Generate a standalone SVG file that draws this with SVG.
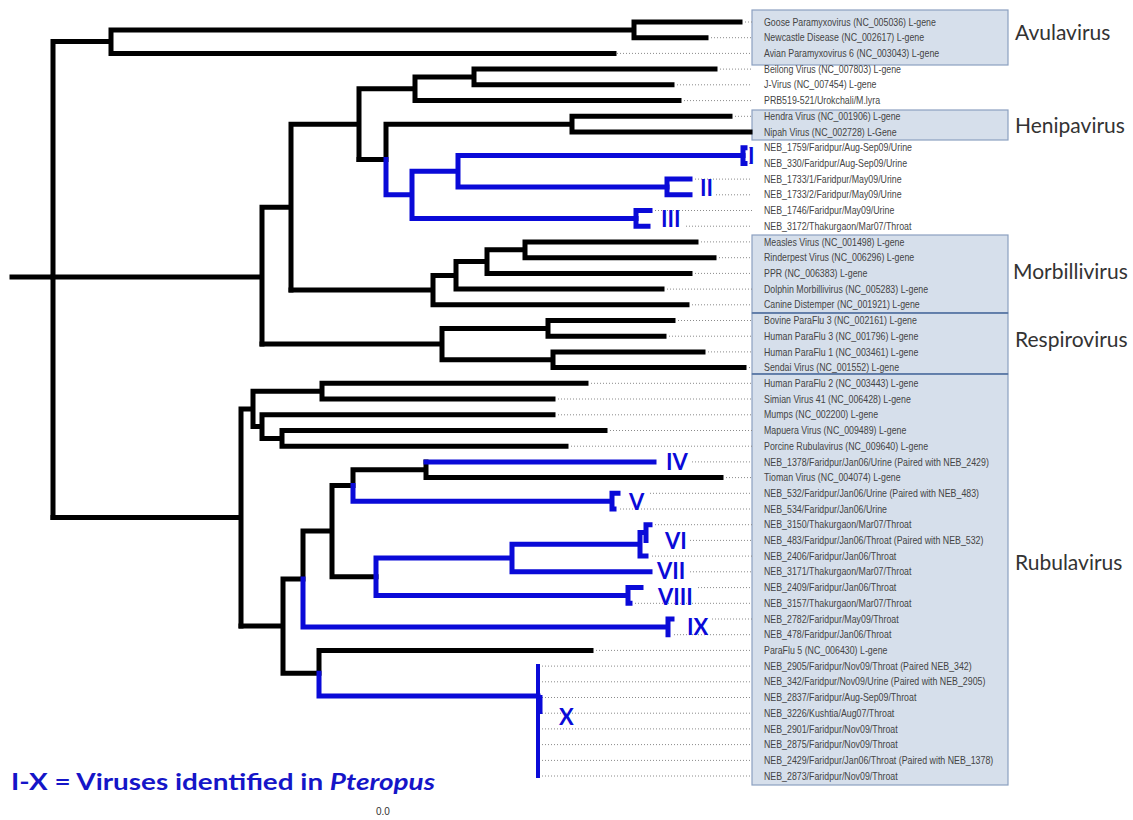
<svg xmlns="http://www.w3.org/2000/svg" width="1133" height="820" viewBox="0 0 1133 820">
  <style>
    .b { fill: none; stroke: #000; stroke-width: 5; stroke-linecap: square; }
    .u { fill: none; stroke: #0a0ad8; stroke-width: 5; stroke-linecap: square; }
    .dot { fill: none; stroke: #8a8a8a; stroke-width: 1; stroke-dasharray: 1 2; }
    .box { fill: #d6dfeb; stroke: #8ba0c0; stroke-width: 1.2; }
    .sep { stroke: #4f6f9f; stroke-width: 1.5; }
    .leaf { font-family: "Liberation Sans", Arial, sans-serif; font-size: 10.5px; fill: #444; }
    .grp { font-family: Lato, "Open Sans", sans-serif; font-size: 21px; fill: #333; }
    .cl { font-family: Lato, "Open Sans", sans-serif; font-weight: bold; font-size: 22px; fill: #0a0ad8; }
    .legend { font-family: Lato, "Open Sans", sans-serif; font-weight: bold; font-size: 23px; fill: #1515c8; }
    .scale { font-family: "Liberation Sans", Arial, sans-serif; font-size: 10px; fill: #333; }
  </style>
  <rect width="1133" height="820" fill="#fff"/>

  <!-- genus boxes -->
  <g id="genus-boxes">
    <g id="avulavirus"><rect class="box" x="752" y="10" width="256" height="55"/><text class="grp" x="1015" y="40">Avulavirus</text></g>
    <g id="henipavirus"><rect class="box" x="752" y="110" width="256" height="30"/><text class="grp" x="1015" y="133">Henipavirus</text></g>
    <g id="morbillivirus"><rect class="box" x="752" y="235" width="256" height="78"/><text class="grp" x="1013" y="279">Morbillivirus</text></g>
    <g id="respirovirus"><rect class="box" x="752" y="313" width="256" height="61"/><text class="grp" x="1015" y="347">Respirovirus</text></g>
    <g id="rubulavirus"><rect class="box" x="752" y="374" width="256" height="411"/><text class="grp" x="1015" y="570">Rubulavirus</text></g>
    <line class="sep" x1="752" y1="313" x2="1008" y2="313"/>
    <line class="sep" x1="752" y1="374" x2="1008" y2="374"/>
  </g>

  <!-- dotted leaf guides -->
  <g id="leaf-guides">
    <path class="dot" d="M745,22H752M711,37.7H752M617,53.4H752M720,69.1H752M677,84.8H752M684,100.6H752M735,116.3H752
      M749,147.7H752M749,163.4H752M695,179.1H752M716,194.8H752M655,210.5H752M686,226.2H752
      M701,241.9H752M719,257.7H752M695,273.4H752M667,289.1H752M692,304.8H752M678,320.5H752M669,336.2H752M708,351.9H752M749,367.6H752
      M591,383.3H752M558,399H752M558,414.8H752M610,430.5H752M571,446.2H752M692,461.9H752M726,477.6H752
      M650,493.3H752M620,509H752M655,524.7H752M690,540.4H752M652,556.1H752M690,571.8H752M698,587.6H752M635,603.3H752M712,619H752M674,634.7H752
      M596,650.4H752M542,666.1H752M542,681.8H752M542,697.5H752M542,713.2H752M542,728.9H752M542,744.6H752M542,760.4H752M542,776H752"/>
  </g>

  <!-- tree connectors -->
  <g id="connectors">
    <path class="b" d="M12,277H53M53,41.6V517.5M53,41.6H111M111,29.9V53.4M111,29.9H634M634,22V37.7M634,22H740M634,37.7H706M111,53.4H614"/>
    <path class="b" d="M53,277H262M262,207.2V344.1M262,207.2H291M291,124.2V290.1M291,124.2H359M359,88.8V159.5M359,88.8H415M415,77V100.6M415,77H474M474,69.1V84.8M474,69.1H715M474,84.8H672M415,100.6H679"/>
    <path class="b" d="M359,159.5H386M386,124.2V159.5M386,124.2H572M572,116.3V132M572,116.3H730M572,132H750"/>
    <path class="b" d="M291,290.1H433M433,275.4V304.8M433,275.4H456M456,261.6V289.1M456,261.6H487M487,249.8V273.4M487,249.8H525M525,241.9V257.7M525,241.9H696M525,257.7H714M487,273.4H690M456,289.1H662M433,304.8H687"/>
    <path class="b" d="M262,344.1H442M442,328.4V359.8M442,328.4H548M548,320.5V336.2M548,320.5H673M548,336.2H664M442,359.8H553M553,351.9V367.6M553,351.9H703M553,367.6H744"/>
    <path class="b" d="M53,517.5H241M241,408.9V626.1M241,408.9H253M253,391.2V426.6M253,391.2H322M322,383.3V399M322,383.3H586M322,399H553M253,426.6H262M262,414.8V438.4M262,414.8H553M262,438.4H282M282,430.5V446.2M282,430.5H605M282,446.2H566"/>
    <path class="b" d="M241,626.1H283M283,579V673.2M283,579H303M303,531.1V579M303,531.1H332M332,485.5V576.8M332,485.5H353M353,469.8V485.5M353,469.8H426M426,461.9V477.6M426,477.6H721M332,576.8H376M283,673.2H319M319,650.4V673.2M319,650.4H591"/>

    <!-- Pteropus clades -->
    <path class="u" d="M386,159.5V194.8M386,194.8H412M412,171.3V218.4M412,171.3H458M458,155.6V187M458,155.6H743M458,187H667M412,218.4H636"/>
    <path class="u" d="M743,147.7V163.4M743,147.7H745M743,163.4H745M667,179.1V194.8M667,179.1H690M667,194.8H690M636,210.5V226.2M636,210.5H650M636,226.2H648"/>
    <path class="u" d="M426,461.9H654M353,485.5V501.2M353,501.2H612M612,493.3V509M612,493.3H618M612,509H614"/>
    <path class="u" d="M376,558.1V595.4M376,558.1H512M512,544.3V571.8M512,544.3H640M640,532.6V556.1M640,556.1H646M640,532.6H646M646,524.7V540.4M646,524.7H650M512,571.8H650M376,595.4H628M628,587.6V603.3M628,587.6H641M628,603.3H630"/>
    <path class="u" d="M303,579V626.9M303,626.9H668M668,619V634.7M668,619H672M319,673.2V696M319,696H538"/>
    <path class="u" style="stroke-width:4" d="M538,666.1V776M540.5,697V712"/>
  </g>

  <!-- clade numerals -->
  <g id="clade-labels">
    <text class="cl" x="748" y="164">I</text>
    <text class="cl" x="700" y="196">II</text>
    <text class="cl" x="661" y="227">III</text>
    <text class="cl" x="666" y="470">IV</text>
    <text class="cl" x="629" y="510">V</text>
    <text class="cl" x="665" y="549">VI</text>
    <text class="cl" x="657" y="579">VII</text>
    <text class="cl" x="658" y="605">VIII</text>
    <text class="cl" x="687" y="635">IX</text>
    <text class="cl" x="559" y="725">X</text>
  </g>

  <!-- taxon names -->
  <g id="taxa" transform="translate(764 0) scale(0.84 1)">
    <text class="leaf" x="0" y="25.7">Goose Paramyxovirus (NC_005036) L-gene</text>
    <text class="leaf" x="0" y="41.4">Newcastle Disease (NC_002617) L-gene</text>
    <text class="leaf" x="0" y="57.1">Avian Paramyxovirus 6 (NC_003043) L-gene</text>
    <text class="leaf" x="0" y="72.8">Beilong Virus (NC_007803) L-gene</text>
    <text class="leaf" x="0" y="88.5">J-Virus (NC_007454) L-gene</text>
    <text class="leaf" x="0" y="104.3">PRB519-521/Urokchali/M.lyra</text>
    <text class="leaf" x="0" y="120">Hendra Virus (NC_001906) L-gene</text>
    <text class="leaf" x="0" y="135.7">Nipah Virus (NC_002728) L-Gene</text>
    <text class="leaf" x="0" y="151.4">NEB_1759/Faridpur/Aug-Sep09/Urine</text>
    <text class="leaf" x="0" y="167.1">NEB_330/Faridpur/Aug-Sep09/Urine</text>
    <text class="leaf" x="0" y="182.8">NEB_1733/1/Faridpur/May09/Urine</text>
    <text class="leaf" x="0" y="198.5">NEB_1733/2/Faridpur/May09/Urine</text>
    <text class="leaf" x="0" y="214.2">NEB_1746/Faridpur/May09/Urine</text>
    <text class="leaf" x="0" y="229.9">NEB_3172/Thakurgaon/Mar07/Throat</text>
    <text class="leaf" x="0" y="245.6">Measles Virus (NC_001498) L-gene</text>
    <text class="leaf" x="0" y="261.4">Rinderpest Virus (NC_006296) L-gene</text>
    <text class="leaf" x="0" y="277.1">PPR (NC_006383) L-gene</text>
    <text class="leaf" x="0" y="292.8">Dolphin Morbillivirus (NC_005283) L-gene</text>
    <text class="leaf" x="0" y="308.5">Canine Distemper (NC_001921) L-gene</text>
    <text class="leaf" x="0" y="324.2">Bovine ParaFlu 3 (NC_002161) L-gene</text>
    <text class="leaf" x="0" y="339.9">Human ParaFlu 3 (NC_001796) L-gene</text>
    <text class="leaf" x="0" y="355.6">Human ParaFlu 1 (NC_003461) L-gene</text>
    <text class="leaf" x="0" y="371.3">Sendai Virus (NC_001552) L-gene</text>
    <text class="leaf" x="0" y="387">Human ParaFlu 2 (NC_003443) L-gene</text>
    <text class="leaf" x="0" y="402.7">Simian Virus 41 (NC_006428) L-gene</text>
    <text class="leaf" x="0" y="418.5">Mumps (NC_002200) L-gene</text>
    <text class="leaf" x="0" y="434.2">Mapuera Virus (NC_009489) L-gene</text>
    <text class="leaf" x="0" y="449.9">Porcine Rubulavirus (NC_009640) L-gene</text>
    <text class="leaf" x="0" y="465.6">NEB_1378/Faridpur/Jan06/Urine (Paired with NEB_2429)</text>
    <text class="leaf" x="0" y="481.3">Tioman Virus (NC_004074) L-gene</text>
    <text class="leaf" x="0" y="497">NEB_532/Faridpur/Jan06/Urine (Paired with NEB_483)</text>
    <text class="leaf" x="0" y="512.7">NEB_534/Faridpur/Jan06/Urine</text>
    <text class="leaf" x="0" y="528.4">NEB_3150/Thakurgaon/Mar07/Throat</text>
    <text class="leaf" x="0" y="544.1">NEB_483/Faridpur/Jan06/Throat (Paired with NEB_532)</text>
    <text class="leaf" x="0" y="559.8">NEB_2406/Faridpur/Jan06/Throat</text>
    <text class="leaf" x="0" y="575.5">NEB_3171/Thakurgaon/Mar07/Throat</text>
    <text class="leaf" x="0" y="591.3">NEB_2409/Faridpur/Jan06/Throat</text>
    <text class="leaf" x="0" y="607">NEB_3157/Thakurgaon/Mar07/Throat</text>
    <text class="leaf" x="0" y="622.7">NEB_2782/Faridpur/May09/Throat</text>
    <text class="leaf" x="0" y="638.4">NEB_478/Faridpur/Jan06/Throat</text>
    <text class="leaf" x="0" y="654.1">ParaFlu 5 (NC_006430) L-gene</text>
    <text class="leaf" x="0" y="669.8">NEB_2905/Faridpur/Nov09/Throat (Paired NEB_342)</text>
    <text class="leaf" x="0" y="685.5">NEB_342/Faridpur/Nov09/Urine (Paired with NEB_2905)</text>
    <text class="leaf" x="0" y="701.2">NEB_2837/Faridpur/Aug-Sep09/Throat</text>
    <text class="leaf" x="0" y="716.9">NEB_3226/Kushtia/Aug07/Throat</text>
    <text class="leaf" x="0" y="732.6">NEB_2901/Faridpur/Nov09/Throat</text>
    <text class="leaf" x="0" y="748.3">NEB_2875/Faridpur/Nov09/Throat</text>
    <text class="leaf" x="0" y="764.1">NEB_2429/Faridpur/Jan06/Throat (Paired with NEB_1378)</text>
    <text class="leaf" x="0" y="779.7">NEB_2873/Faridpur/Nov09/Throat</text>
  </g>

  <!-- legend and scale -->
  <g id="legend">
    <text class="legend" x="11" y="790" textLength="424" lengthAdjust="spacingAndGlyphs">I-X = Viruses identified in <tspan font-style="italic">Pteropus</tspan></text>
    <text class="scale" x="376" y="815">0.0</text>
  </g>
</svg>
